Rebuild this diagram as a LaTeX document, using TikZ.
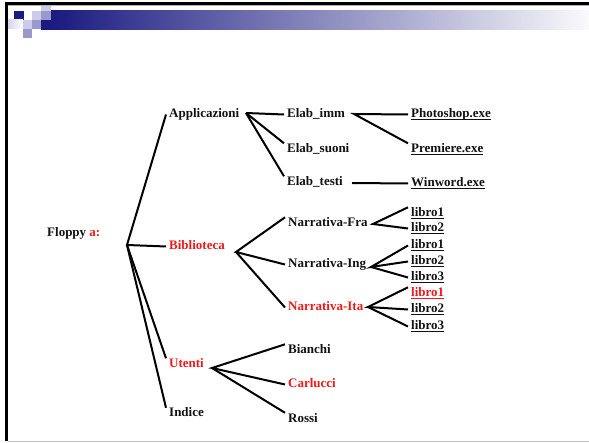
\documentclass[tikz,border=0pt]{standalone}
\usepackage{fontspec}
\setmainfont{Liberation Serif}
\definecolor{navy}{HTML}{1A1A80}
\definecolor{lav}{HTML}{CCCCEA}
\definecolor{med}{HTML}{9999CC}
\definecolor{redtxt}{HTML}{F01818}
\definecolor{txt}{HTML}{111111}
\newcommand\ulx[1]{\setbox0\hbox{#1}\rlap{\raisebox{-2.4pt}{\rule{\wd0}{1.2pt}}}\box0}
\tikzset{
  lbl/.style={anchor=base west, inner xsep=3pt, inner ysep=0pt, text height=9pt, text depth=3pt,
              font=\fontsize{13}{15}\selectfont\bfseries, text=txt},
  redlbl/.style={lbl, text=redtxt},
  conn/.style={line width=2pt, draw=black}
}
\begin{document}
\begin{tikzpicture}[x=1pt,y=-1pt]
\useasboundingbox (0,0) rectangle (589,443);
% frame
\fill[black] (5,2) rectangle (589,4.8);
\fill[gray!60] (8,4.8) rectangle (589,5.8);
\fill[black] (5,2) rectangle (8,441);
\fill[gray!50] (8,440.6) rectangle (589,442);
% decoration
\fill[lav] (41,5.8) rectangle (51,11);
\fill[navy!100!black] (14,11) rectangle (24,20);
\fill[lav] (32,11) rectangle (41,20);
\fill[med] (41,11) rectangle (51,20);
\shade[left color=lav!80, right color=white!95!lav] (8,20) rectangle (23,29);
\fill[lav] (23,20) rectangle (32,29);
\fill[med] (32,20) rectangle (41,29);
\fill[navy] (41,20) rectangle (51,30);
\fill[med] (23,29) rectangle (32,38);
\shade[left color=navy, middle color={rgb,255:red,176;green,176;blue,202}, right color={rgb,255:red,250;green,250;blue,252}] (51,11) rectangle (589,30);

% hubs
\coordinate (root) at (127,245);
\coordinate (happ) at (246,113);
\coordinate (himm) at (354,114);
\coordinate (htesti) at (352,183);
\coordinate (hbib) at (236,252);
\coordinate (hfra) at (373,224);
\coordinate (hing) at (371,267);
\coordinate (hita) at (368,307);
\coordinate (hut) at (212,368);

% nodes
\node[lbl] (floppy) at (44,236.5) {Floppy \textcolor{redtxt}{a:}};
\node[lbl] (app) at (166,117.5) {Applicazioni};
\node[lbl] (elabimm) at (284,117.5) {Elab\_imm};
\node[lbl] (elabsuoni) at (284,152.5) {Elab\_suoni};
\node[lbl] (elabtesti) at (284,185.5) {Elab\_testi};
\node[lbl] (photo) at (408,117.5) {\ulx{Photoshop.exe}};
\node[lbl] (premiere) at (408,152.5) {\ulx{Premiere.exe}};
\node[lbl] (winword) at (408,186.5) {\ulx{Winword.exe}};
\node[redlbl] (bib) at (166,249.5) {Biblioteca};
\node[lbl] (nfra) at (285,226.5) {Narrativa-Fra};
\node[lbl] (ning) at (285,267.5) {Narrativa-Ing};
\node[redlbl] (nita) at (285,310.5) {Narrativa-Ita};
\node[lbl] (f1) at (408,216.5) {\ulx{libro1}};
\node[lbl] (f2) at (408,231.5) {\ulx{libro2}};
\node[lbl] (i1) at (408,248.5) {\ulx{libro1}};
\node[lbl] (i2) at (408,264.5) {\ulx{libro2}};
\node[lbl] (i3) at (408,280.5) {\ulx{libro3}};
\node[redlbl] (t1) at (408,296.5) {\ulx{libro1}};
\node[lbl] (t2) at (408,312.5) {\ulx{libro2}};
\node[lbl] (t3) at (408,329.5) {\ulx{libro3}};
\node[redlbl] (utenti) at (166,367.5) {Utenti};
\node[lbl] (indice) at (166,417) {Indice};
\node[lbl] (bianchi) at (285,353.5) {Bianchi};
\node[redlbl] (carlucci) at (285,387.5) {Carlucci};
\node[lbl] (rossi) at (285,422) {Rossi};

% connectors
\draw[conn] (app.west) -- (root) -- (bib.west);
\draw[conn] (root) -- (utenti.north west);
\draw[conn] (root) -- (indice.north west);
\draw[conn] (happ) -- (elabimm.west);
\draw[conn] (happ) -- (elabsuoni.north west);
\draw[conn] (happ) -- (elabtesti.north west);
\draw[conn] (photo.west) -- (himm) -- (premiere.north west);
\draw[conn] (htesti) -- (winword.west);
\draw[conn] (nfra.north west) -- (hbib) -- (ning.west);
\draw[conn] (hbib) -- (nita.west);
\draw[conn] (f1.north west) -- (hfra) -- (f2.west);
\draw[conn] (i1.west) -- (hing) -- (i2.west);
\draw[conn] (hing) -- (i3.west);
\draw[conn] (t1.north west) -- (hita) -- (t2.west);
\draw[conn] (hita) -- (t3.west);
\draw[conn] (bianchi.north west) -- (hut) -- (carlucci.west);
\draw[conn] (hut) -- (rossi.north west);
\end{tikzpicture}
\end{document}
